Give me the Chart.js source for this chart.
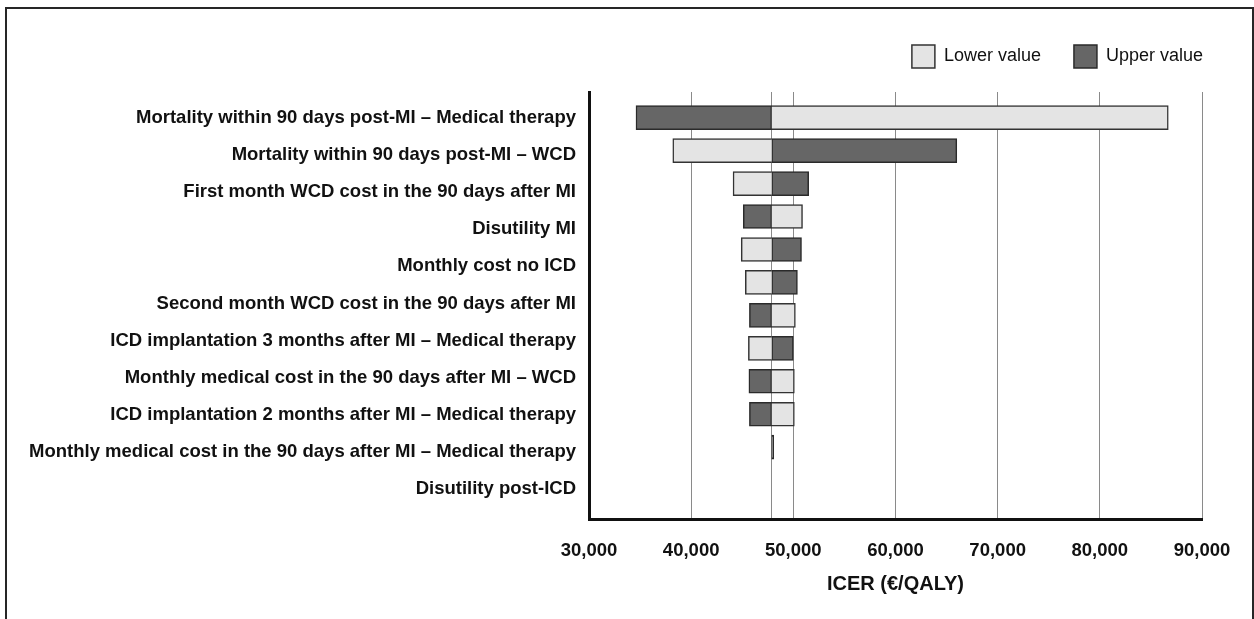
<!DOCTYPE html>
<html>
<head>
<meta charset="utf-8">
<script src="https://cdn.jsdelivr.net/npm/chart.js@4.4.1/dist/chart.umd.min.js"></script>
<style>
  html, body { margin: 0; padding: 0; background: #fff; overflow: hidden; width: 1254px; height: 619px; }
  #frame { position: absolute; left: 5px; top: 7px; width: 1249px; height: 700px; box-sizing: border-box;
           border: 2px solid #262626; border-bottom: none; }
  #wrap { position: absolute; left: 0; top: 0; width: 1254px; height: 619px; }
</style>
</head>
<body>
<div id="frame"></div>
<div id="wrap"><canvas id="c"></canvas></div>
<script>
// ---- data ----
const categories = [
  'Mortality within 90 days post-MI \u2013 Medical therapy',
  'Mortality within 90 days post-MI \u2013 WCD',
  'First month WCD cost in the 90 days after MI',
  'Disutility MI',
  'Monthly cost no ICD',
  'Second month WCD cost in the 90 days after MI',
  'ICD implantation 3 months after MI \u2013 Medical therapy',
  'Monthly medical cost in the 90 days after MI \u2013 WCD',
  'ICD implantation 2 months after MI \u2013 Medical therapy',
  'Monthly medical cost in the 90 days after MI \u2013 Medical therapy',
  'Disutility post-ICD'
];
const baseICER = 47880;
const lowerValueICER = [86700, 38200, 44100, 50900, 44900, 45300, 50200, 45600, 50100, 50100, 47880];
const upperValueICER = [34600, 66000, 51500, 45100, 50800, 50400, 45700, 50000, 45650, 45700, 48080];
const xTickValues = [30000, 40000, 50000, 60000, 70000, 80000, 90000];
const seriesNames = ['Lower value', 'Upper value'];
const axisTitle = 'ICER (\u20ac/QALY)';

// ---- chart ----
const FONT = "'Liberation Sans', Arial, Helvetica, sans-serif";
Chart.defaults.font.family = FONT;
Chart.defaults.color = '#111';

function floating(values) {
  return values.map((v, i) => ({ y: i, x: [baseICER, v] }));
}

new Chart(document.getElementById('c'), {
  type: 'bar',
  data: {
    datasets: [
      {
        label: seriesNames[0],
        data: floating(lowerValueICER),
        backgroundColor: '#e4e4e4',
        borderColor: '#333',
        borderWidth: 1.5,
        borderSkipped: ctx => (lowerValueICER[ctx.dataIndex] >= baseICER ? 'left' : 'right'),
        grouped: false,
        barThickness: 24,
        xAxisID: 'x',
        yAxisID: 'yb'
      },
      {
        label: seriesNames[1],
        data: floating(upperValueICER),
        backgroundColor: '#666666',
        borderColor: '#2a2a2a',
        borderWidth: 1.5,
        borderSkipped: false,
        grouped: false,
        barThickness: 24,
        xAxisID: 'x',
        yAxisID: 'yb'
      }
    ]
  },
  options: {
    indexAxis: 'y',
    responsive: true,
    maintainAspectRatio: false,
    animation: false,
    layout: { padding: { top: 12, right: 18, bottom: 0, left: 0 } },
    plugins: {
      tooltip: { enabled: false },
      legend: {
        position: 'top',
        align: 'end',
        labels: {
          boxWidth: 23,
          boxHeight: 23,
          padding: 33,
          color: '#111',
          font: { family: FONT, size: 18 }
        }
      }
    },
    scales: {
      x: {
        type: 'linear',
        position: 'bottom',
        min: xTickValues[0],
        max: xTickValues[xTickValues.length - 1],
        afterBuildTicks: s => {
          s.ticks = xTickValues.concat([baseICER]).sort((a, b) => a - b).map(v => ({ value: v }));
        },
        afterFit: s => { s.height = 100; },
        grid: { color: '#8a8a8a', lineWidth: 1, drawTicks: false },
        border: { display: true, width: 3, color: '#111' },
        ticks: {
          autoSkip: false,
          maxRotation: 0,
          padding: 21,
          color: '#111',
          font: { family: FONT, size: 18.5, weight: 'bold' },
          callback: v => (v === baseICER ? '' : Number(v).toLocaleString('en-US'))
        },
        title: {
          display: true,
          text: axisTitle,
          color: '#111',
          font: { family: FONT, size: 20, weight: 'bold' },
          padding: { top: 0, bottom: 23 }
        }
      },
      xTop: {
        type: 'linear',
        position: 'top',
        display: true,
        afterFit: s => { s.height = 14; },
        grid: { display: false, drawTicks: false },
        border: { display: false },
        ticks: { display: false }
      },
      y: {
        type: 'linear',
        position: 'left',
        reverse: true,
        offset: false,
        min: -0.70,
        max: 10.81,
        afterBuildTicks: s => { s.ticks = categories.map((_, i) => ({ value: i })); },
        afterFit: s => { s.width = 589; },
        grid: { display: false, drawTicks: false, offset: false },
        border: { display: true, width: 3, color: '#111' },
        ticks: {
          autoSkip: false,
          padding: 13,
          color: '#111',
          font: { family: FONT, size: 18.5, weight: 'bold' },
          callback: v => categories[v]
        }
      },
      yb: {
        type: 'linear',
        position: 'right',
        reverse: true,
        offset: false,
        min: -0.78,
        max: 12.18,
        display: true,
        afterBuildTicks: s => { s.ticks = categories.map((_, i) => ({ value: i })); },
        afterFit: s => { s.width = 34; },
        grid: { display: false, drawTicks: false, offset: false },
        border: { display: false },
        ticks: { display: false }
      }
    }
  }
});
</script>
</body>
</html>
